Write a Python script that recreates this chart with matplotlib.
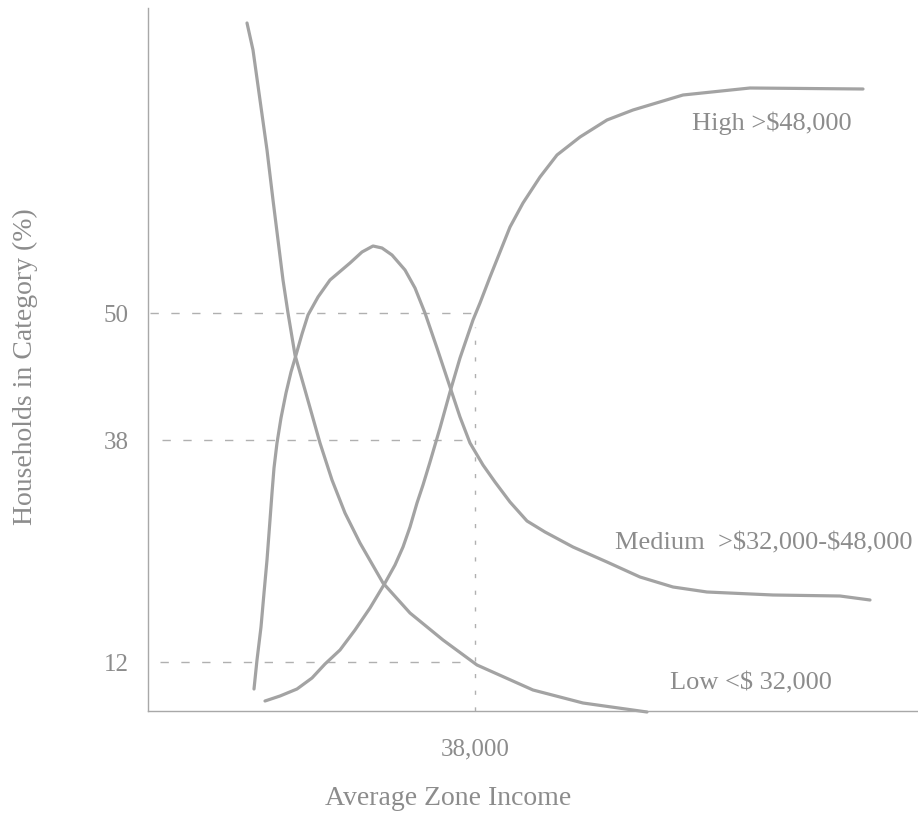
import matplotlib
matplotlib.use("Agg")
import matplotlib.pyplot as plt

# Schematic units: x = income index (0..770), y = share index (0..703)
low_px = [247, 253, 260, 267, 273, 278, 283, 288, 295, 305, 320, 332, 345, 360, 383, 410, 443, 477, 533, 583, 647]
low_py = [23, 50, 100, 150, 200, 240, 280, 313, 355, 390, 443, 480, 513, 543, 583, 613, 640, 665, 690, 703, 712]

med_px = [254, 257, 261, 264, 267, 270, 272, 274, 277, 281, 286, 291, 296, 302, 308, 318, 330, 350, 362, 373,
          382, 392, 405, 415, 425, 437, 450, 460, 470, 483, 495, 510, 527, 545, 573, 607, 640, 673, 707, 773, 840, 870]
med_py = [689, 660, 627, 593, 560, 520, 493, 468, 443, 418, 393, 372, 355, 334, 315, 297, 280, 263, 252, 246,
          248, 255, 270, 288, 313, 348, 387, 417, 443, 465, 482, 502, 521, 532, 547, 562, 577, 587, 592, 595, 596, 600]

high_px = [265, 280, 297, 312, 325, 340, 355, 370, 385, 395, 403, 410, 417, 423, 430, 440, 450, 460, 473, 480,
           490, 500, 510, 523, 540, 557, 580, 607, 633, 683, 750, 863]
high_py = [701, 696, 689, 678, 664, 650, 630, 608, 583, 565, 547, 527, 503, 485, 462, 428, 392, 358, 320, 303,
           277, 252, 227, 203, 177, 155, 137, 120, 110, 95, 88, 89]

ytick_pos = [398, 271, 49]
ytick_labels = ["50", "38", "12"]
xtick_pos = [327]
xtick_labels = ["38,000"]

series_labels = ["High >$48,000", "Medium  >$32,000-$48,000", "Low <$ 32,000"]
label_pos = [(544, 588), (467, 168), (522, 28)]

guide_h = [(398, 2, 325), (271, 14, 315), (49, 12, 312)]  # (y, x_start, x_end)
guide_v = (327, 384)  # (x, y_top)

X0, Y0 = 148, 711


def to_data(px, py):
    return [p - X0 for p in px], [Y0 - q for q in py]


W, H = 918, 813
fig = plt.figure(figsize=(W / 100, H / 100), dpi=100)
ax = fig.add_axes([148 / W, (813 - 711) / H, (918 - 148) / W, (711 - 8) / H])
ax.set_xlim(0, 770)
ax.set_ylim(0, 703)

fam = ["Liberation Serif", "DejaVu Serif"]
tcol = "#8c8c8c"
ccol = "#a3a3a3"

for (yv, x0, x1) in guide_h:
    ax.plot([x0, x1], [yv, yv], color="#b0b0b0", lw=1.0, dashes=(6, 9))
ax.plot([guide_v[0], guide_v[0]], [0, guide_v[1]], color="#b0b0b0", lw=1.0, dashes=(3, 9))

for px, py in [(low_px, low_py), (med_px, med_py), (high_px, high_py)]:
    xs, ys = to_data(px, py)
    ax.plot(xs, ys, color=ccol, lw=2.3, solid_capstyle="round", solid_joinstyle="round", clip_on=False)

for lab, (lx, ly) in zip(series_labels, label_pos):
    ax.text(lx, ly, lab, fontsize=19, color=tcol, family=fam, ha="left", va="center", parse_math=False)

for s in ["top", "right"]:
    ax.spines[s].set_visible(False)
for s in ["left", "bottom"]:
    ax.spines[s].set_color("#a8a8a8")
    ax.spines[s].set_linewidth(1.0)

ax.set_yticks(ytick_pos)
ax.set_yticklabels(ytick_labels, family=fam, fontsize=18, color=tcol)
ax.set_xticks(xtick_pos)
ax.set_xticklabels(xtick_labels, family=fam, fontsize=18, color=tcol)
ax.tick_params(axis="y", length=0, pad=14)
ax.tick_params(axis="x", length=0, pad=20)

fig.text(448 / W, 1 - 798 / H, "Average Zone Income", family=fam, fontsize=20, color=tcol,
         ha="center", va="center")
fig.text(25 / W, 1 - 367 / H, "Households in Category (%)", family=fam, fontsize=20, color=tcol,
         ha="center", va="center", rotation=90)

fig.savefig("out.png", dpi=100)
